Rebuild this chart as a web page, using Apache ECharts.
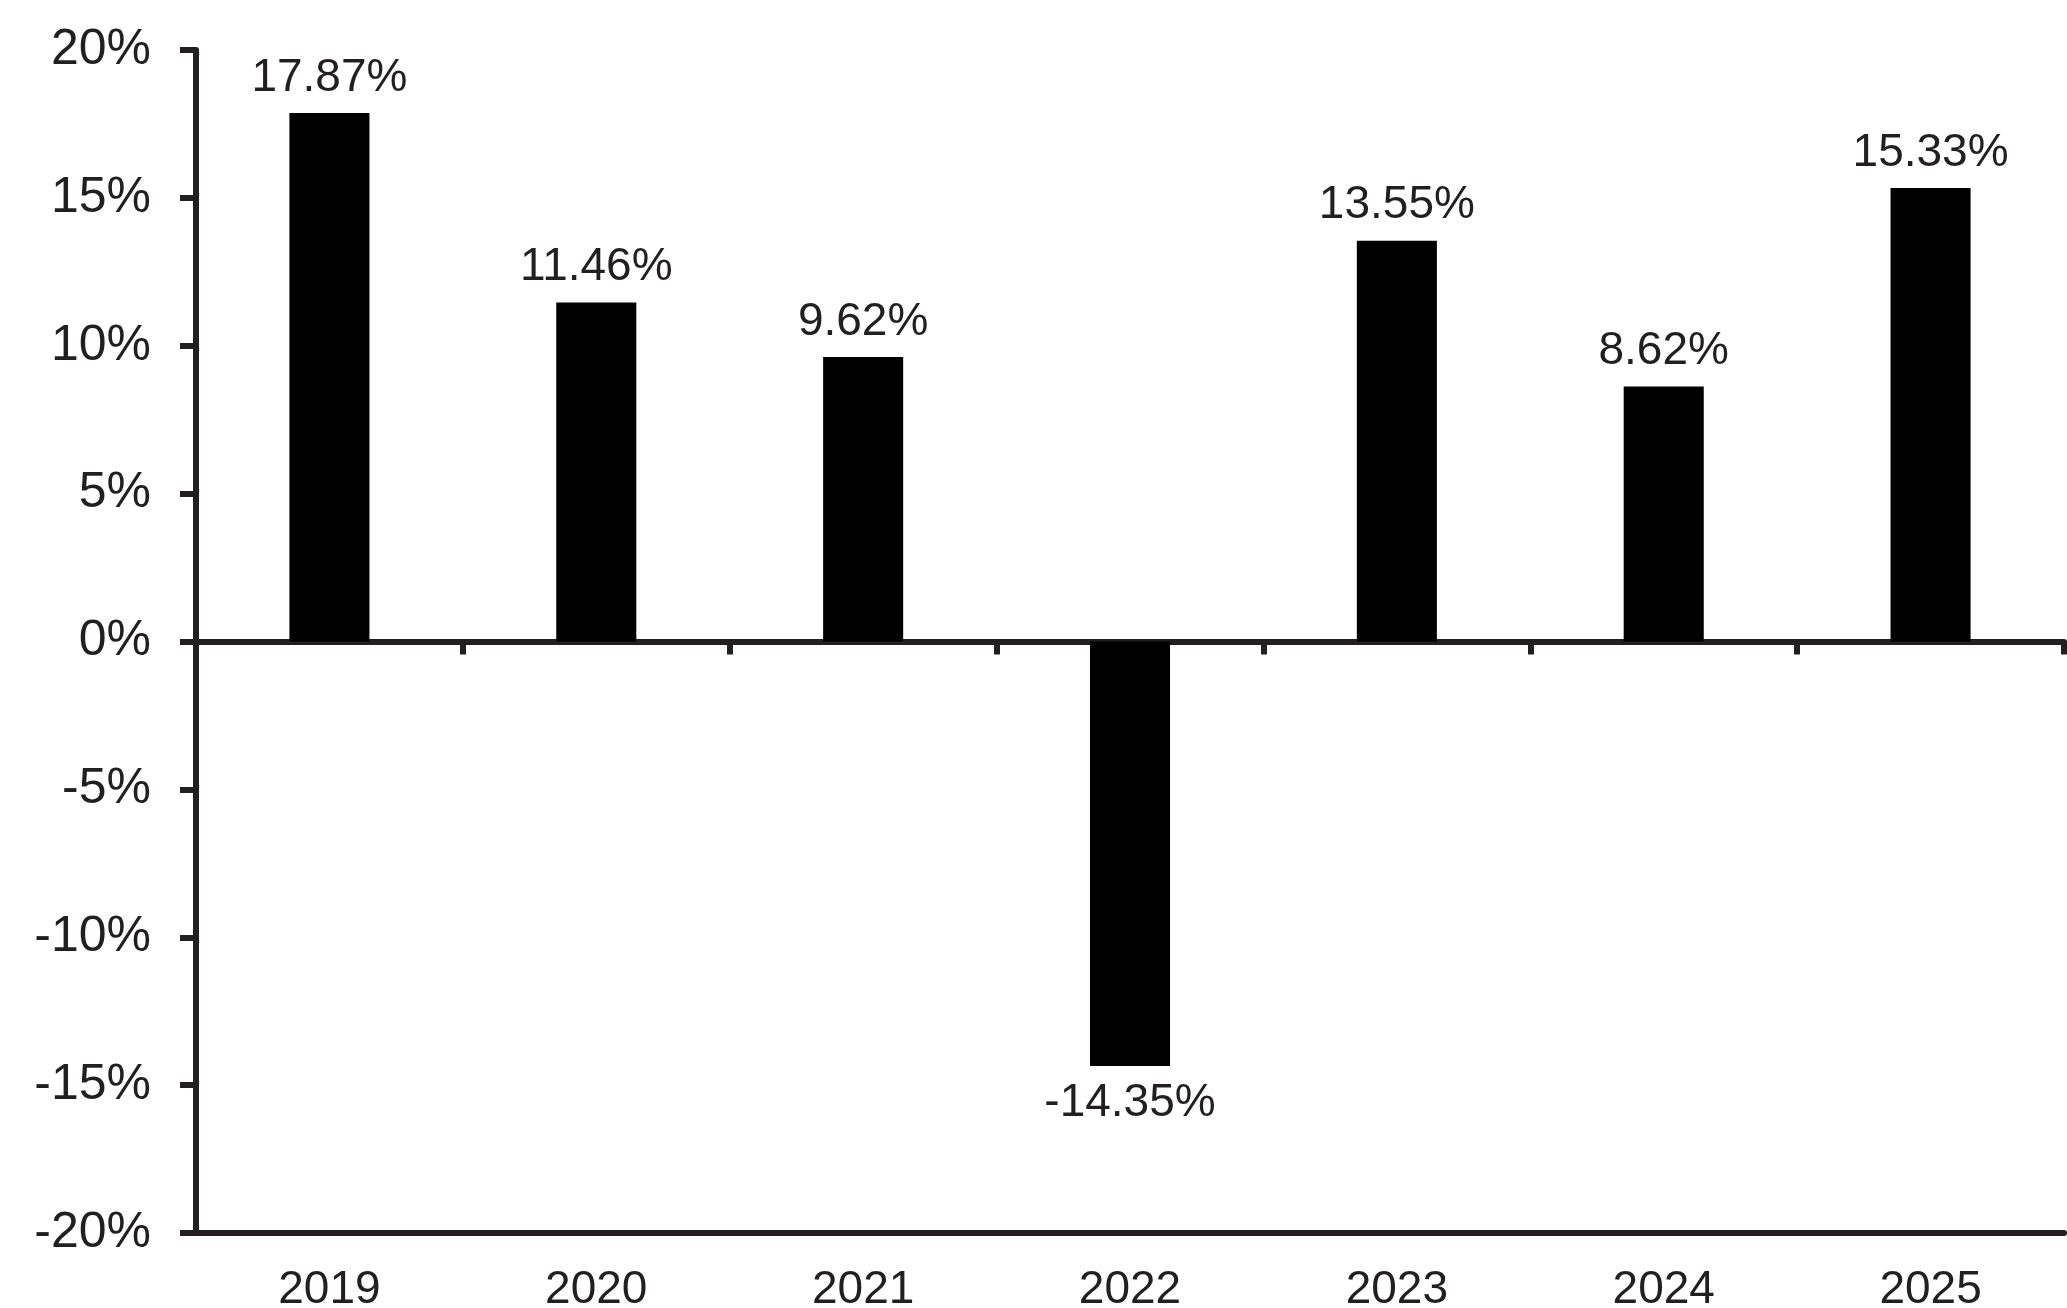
<!DOCTYPE html>
<html>
<head>
<meta charset="utf-8">
<script src="https://cdn.jsdelivr.net/npm/echarts@6/dist/echarts.min.js"></script>
<style>
  html, body { margin: 0; padding: 0; background: #fff; }
  #chart { width: 2067px; height: 1308px; }
</style>
</head>
<body>
<div id="chart"></div>
<script>
const categories = ['2019', '2020', '2021', '2022', '2023', '2024', '2025'];
const returns = [17.87, 11.46, 9.62, -14.35, 13.55, 8.62, 15.33];
const yMin = -20;
const yMax = 20;
const yStep = 5;

const ink = '#231f20';
const font = '"Liberation Sans", Arial, Helvetica, sans-serif';

const chart = echarts.init(document.getElementById('chart'));
chart.setOption({
  animation: false,
  backgroundColor: '#ffffff',
  grid: { left: 196, right: 3, top: 50, bottom: 75, containLabel: false, outerBoundsMode: 'none' },
  xAxis: [
    {
      type: 'category',
      data: categories,
      position: 'bottom',
      axisLine: { onZero: false, lineStyle: { color: ink, width: 6 } },
      axisTick: { show: false },
      axisLabel: { color: ink, fontFamily: font, fontSize: 46, margin: 34 },
      splitLine: { show: false }
    },
    {
      type: 'category',
      data: categories,
      position: 'bottom',
      axisLine: { onZero: true, lineStyle: { color: ink, width: 6 } },
      axisTick: { show: true, length: 13, lineStyle: { color: ink, width: 6 } },
      axisLabel: { show: false },
      splitLine: { show: false }
    }
  ],
  yAxis: {
    type: 'value',
    min: yMin,
    max: yMax,
    interval: yStep,
    axisLine: { show: true, onZero: false, lineStyle: { color: ink, width: 6 } },
    axisTick: { show: true, length: 16, lineStyle: { color: ink, width: 6 } },
    axisLabel: { color: ink, fontFamily: font, fontSize: 50, margin: 45, formatter: '{value}%' },
    splitLine: { show: false }
  },
  series: [{
    type: 'bar',
    xAxisIndex: 0,
    data: returns.map(v => ({
      value: v,
      label: { position: v < 0 ? 'bottom' : 'top', distance: v < 0 ? 14 : 12 }
    })),
    barWidth: '30%',
    itemStyle: { color: '#000000' },
    label: {
      show: true,
      color: ink,
      fontFamily: font,
      fontSize: 46,
      distance: 12,
      formatter: p => p.value.toFixed(2) + '%'
    }
  }]
});
</script>
</body>
</html>
